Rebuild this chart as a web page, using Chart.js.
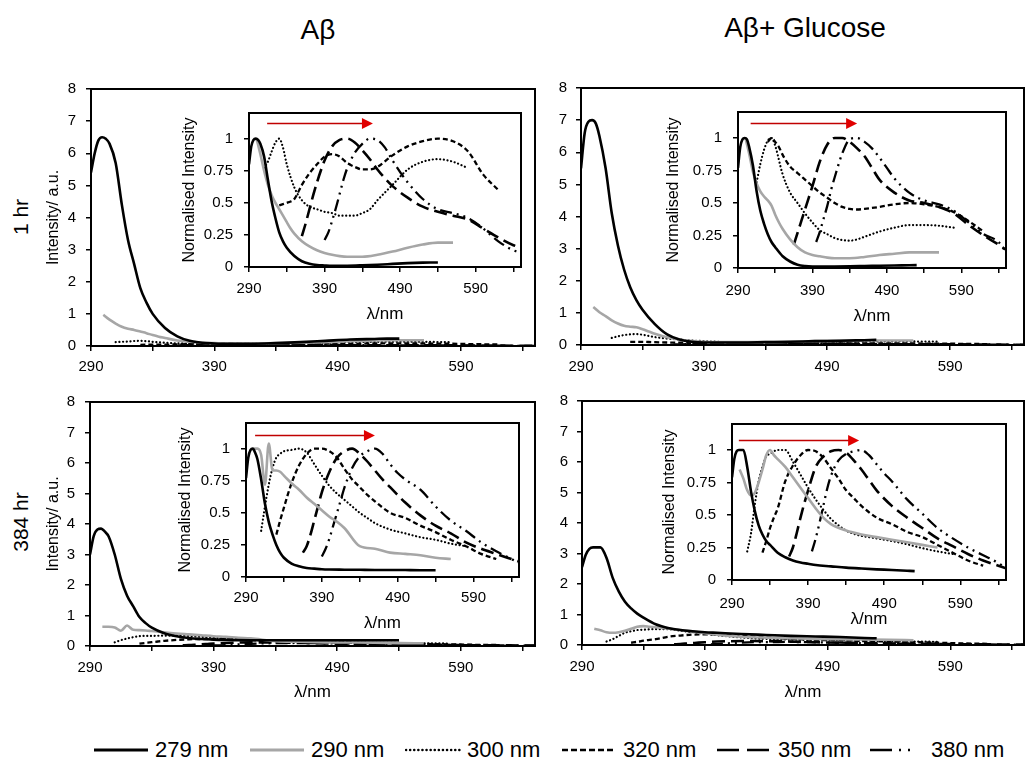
<!DOCTYPE html>
<html><head><meta charset="utf-8">
<script src="https://cdn.jsdelivr.net/npm/chart.js@4.4.1/dist/chart.umd.min.js"></script>
<style>
body{margin:0;background:#fff;width:1025px;height:762px;overflow:hidden;position:relative;font-family:"Liberation Sans",Arial,sans-serif;color:#000;}
canvas{position:absolute;}
.t{position:absolute;white-space:nowrap;line-height:1;transform:translate(-50%,-50%);}
.r{transform:translate(-50%,-50%) rotate(-90deg);}
.lg{position:absolute;top:738px;height:24px;display:flex;align-items:center;font-size:22px;white-space:nowrap;}
.lg svg{margin-right:6px;}
</style></head><body>
<div class="t" style="left:318px;top:30px;font-size:28px;">Aβ</div>
<div class="t" style="left:805px;top:28px;font-size:28px;">Aβ+ Glucose</div>
<div class="t r" style="left:20px;top:217px;font-size:21px;">1 hr</div>
<div class="t r" style="left:20px;top:522px;font-size:21px;">384 hr</div>
<div id="legend"></div>
<script>
// ---------- shared emission wavelength grids (nm) ----------
const x279 = [290,293,296,299,302,305,310,315,320,325,330,335,340,350,360,370,380,390,400,420,440,460,480,500,520,530,540];
const x290 = [300,305,310,315,320,325,330,335,340,345,350,360,370,380,390,400,410,420,440,460,480,500,520,540,560];
const x300 = [310,315,320,325,330,335,340,350,360,370,380,390,400,410,420,430,440,450,460,480,500,520,540,560,580];
const x320 = [330,335,340,345,350,360,370,380,390,400,410,420,430,440,450,460,480,500,520,540,560,580,600,620];
const x350 = [360,365,370,375,380,385,390,400,410,420,430,440,450,460,470,480,500,520,540,560,580,600,620,640,650];
const x380 = [390,395,400,405,410,415,420,430,440,450,460,470,480,490,500,520,540,560,580,600,620,640,650];

const seriesNames = ['279 nm','290 nm','300 nm','320 nm','350 nm','380 nm'];
const rowLabels = ['1 hr','384 hr'];
const colTitles = ['Aβ','Aβ+ Glucose'];
const xTickValues = [290,340,390,440,490,540,590,640];
const xTickLabels = [290,390,490,590];
const mainYTicks = [0,1,2,3,4,5,6,7,8];
const insetYTicks = [0,0.25,0.5,0.75,1];

// ---------- Aβ, 1 hr (top-left) ----------
const tlMain279 = [5.4,6.0,6.4,6.5,6.45,6.3,5.7,4.4,3.3,2.55,1.8,1.35,1.0,0.56,0.3,0.16,0.1,0.08,0.07,0.07,0.09,0.12,0.16,0.2,0.22,0.23,0.23];
const tlMain290 = [0.97,0.82,0.7,0.6,0.54,0.5,0.45,0.4,0.34,0.29,0.25,0.17,0.13,0.1,0.09,0.08,0.08,0.08,0.09,0.1,0.12,0.15,0.17,0.18,0.18];
const tlMain300 = [0.12,0.13,0.14,0.155,0.16,0.15,0.13,0.1,0.083,0.075,0.072,0.069,0.067,0.064,0.064,0.064,0.067,0.072,0.08,0.1,0.12,0.13,0.135,0.13,0.12];
const tlMain320 = [0.038,0.039,0.04,0.041,0.042,0.051,0.058,0.064,0.069,0.07,0.069,0.065,0.062,0.061,0.061,0.062,0.07,0.075,0.078,0.08,0.078,0.072,0.058,0.048];
const tlMain350 = [0.012,0.017,0.023,0.028,0.033,0.038,0.042,0.047,0.05,0.05,0.049,0.046,0.042,0.038,0.035,0.032,0.027,0.024,0.022,0.02,0.019,0.015,0.012,0.009,0.008];
const tlMain380 = [0.008,0.011,0.014,0.018,0.023,0.027,0.031,0.036,0.038,0.04,0.04,0.037,0.033,0.03,0.026,0.021,0.018,0.017,0.015,0.012,0.008,0.005,0.004];
const tlIns279 = [0.8,0.94,0.99,1.0,0.99,0.96,0.86,0.68,0.51,0.38,0.27,0.2,0.15,0.085,0.045,0.025,0.015,0.012,0.01,0.01,0.013,0.018,0.024,0.03,0.034,0.035,0.035];
const tlIns290 = [1.0,0.88,0.75,0.64,0.56,0.5,0.45,0.4,0.35,0.3,0.26,0.2,0.16,0.13,0.11,0.095,0.085,0.08,0.08,0.095,0.12,0.15,0.175,0.19,0.19];
const tlIns300 = [0.77,0.82,0.9,0.97,1.0,0.93,0.8,0.62,0.52,0.47,0.45,0.43,0.42,0.4,0.4,0.4,0.42,0.45,0.52,0.64,0.76,0.82,0.84,0.82,0.77];
const tlIns320 = [0.48,0.49,0.5,0.51,0.53,0.64,0.73,0.8,0.86,0.88,0.86,0.81,0.78,0.76,0.76,0.78,0.87,0.94,0.98,1.0,0.98,0.9,0.72,0.6];
const tlIns350 = [0.24,0.34,0.45,0.56,0.66,0.75,0.83,0.94,0.99,1.0,0.97,0.91,0.84,0.76,0.69,0.63,0.54,0.47,0.43,0.4,0.37,0.3,0.23,0.17,0.15];
const tlIns380 = [0.21,0.27,0.36,0.46,0.57,0.68,0.77,0.89,0.96,1.0,0.99,0.93,0.83,0.74,0.66,0.53,0.45,0.42,0.38,0.3,0.2,0.13,0.11];

// ---------- Aβ+ Glucose, 1 hr (top-right) ----------
const trMain279 = [5.5,6.6,6.95,7.0,6.9,6.5,5.5,4.1,3.1,2.35,1.8,1.4,1.1,0.65,0.33,0.17,0.1,0.08,0.08,0.08,0.09,0.1,0.12,0.13,0.15,0.16,null];
const trMain290 = [1.18,1.02,0.9,0.77,0.67,0.6,0.57,0.55,0.49,0.42,0.35,0.24,0.17,0.12,0.1,0.09,0.09,0.09,0.09,0.1,0.12,0.13,0.14,0.14,0.14];
const trMain300 = [null,0.22,0.27,0.31,0.33,0.34,0.32,0.245,0.2,0.17,0.14,0.12,0.1,0.088,0.078,0.073,0.071,0.075,0.082,0.095,0.105,0.112,0.112,0.11,0.105];
const trMain320 = [0.097,0.1,0.097,0.093,0.087,0.078,0.073,0.068,0.063,0.058,0.054,0.05,0.047,0.046,0.045,0.046,0.047,0.049,0.05,0.049,0.047,0.043,0.036,0.028];
const trMain350 = [null,0.009,0.014,0.018,0.023,0.027,0.032,0.041,0.048,0.05,0.05,0.049,0.046,0.043,0.039,0.034,0.029,0.026,0.025,0.024,0.021,0.017,0.013,0.009,0.007];
const trMain380 = [null,0.01,0.014,0.019,0.024,0.03,0.035,0.044,0.05,0.05,0.049,0.046,0.043,0.039,0.035,0.029,0.026,0.025,0.022,0.018,0.013,0.01,0.006];
const trIns279 = [0.77,0.93,0.99,1.0,0.99,0.93,0.79,0.59,0.44,0.34,0.26,0.2,0.16,0.09,0.05,0.025,0.015,0.012,0.012,0.012,0.013,0.015,0.017,0.019,0.021,0.022,null];
const trIns290 = [1.0,0.88,0.74,0.65,0.59,0.55,0.52,0.48,0.41,0.35,0.3,0.22,0.16,0.12,0.1,0.09,0.08,0.075,0.075,0.085,0.1,0.11,0.12,0.12,0.12];
const trIns300 = [null,0.66,0.8,0.91,0.98,1.0,0.94,0.72,0.58,0.5,0.42,0.35,0.29,0.26,0.23,0.215,0.21,0.22,0.24,0.28,0.31,0.33,0.33,0.325,0.31];
const trIns320 = [0.97,1.0,0.97,0.93,0.87,0.78,0.73,0.68,0.63,0.58,0.54,0.5,0.47,0.455,0.45,0.455,0.47,0.49,0.5,0.49,0.47,0.43,0.36,0.28];
const trIns350 = [null,0.18,0.27,0.36,0.45,0.54,0.63,0.82,0.95,1.0,1.0,0.97,0.92,0.86,0.77,0.68,0.58,0.52,0.5,0.47,0.42,0.33,0.25,0.18,0.14];
const trIns380 = [null,0.2,0.28,0.38,0.48,0.6,0.7,0.88,0.99,1.0,0.97,0.92,0.85,0.77,0.69,0.58,0.52,0.49,0.44,0.35,0.26,0.2,0.12];

// ---------- Aβ, 384 hr (bottom-left) ----------
const blMain279 = [3.0,3.6,3.82,3.85,3.75,3.6,3.0,2.2,1.65,1.3,0.95,0.75,0.6,0.42,0.32,0.26,0.23,0.21,0.2,0.19,0.19,0.19,0.19,0.19,0.19,0.19,0.19];
const blMain290 = [0.63,0.63,0.61,0.5,0.67,0.53,0.52,0.51,0.49,0.47,0.45,0.41,0.38,0.35,0.32,0.3,0.27,0.25,0.16,0.14,0.12,0.115,0.11,0.095,0.09];
const blMain300 = [0.12,0.19,0.245,0.29,0.32,0.33,0.33,0.34,0.34,0.33,0.3,0.27,0.24,0.22,0.2,0.19,0.17,0.16,0.14,0.126,0.116,0.105,0.1,0.088,0.082];
const blMain320 = [0.076,0.1,0.124,0.147,0.168,0.2,0.22,0.23,0.23,0.225,0.214,0.193,0.175,0.161,0.147,0.136,0.115,0.106,0.092,0.08,0.067,0.055,0.041,0.032];
const blMain350 = [null,0.023,0.029,0.04,0.053,0.066,0.079,0.098,0.112,0.118,0.12,0.115,0.108,0.1,0.091,0.084,0.07,0.058,0.048,0.041,0.032,0.026,0.022,0.017,0.014];
const blMain380 = [0.016,0.022,0.03,0.04,0.05,0.06,0.07,0.085,0.094,0.098,0.1,0.096,0.088,0.081,0.076,0.068,0.055,0.044,0.036,0.027,0.02,0.014,0.011];
const blIns279 = [0.77,0.93,0.99,1.0,0.97,0.92,0.76,0.57,0.43,0.33,0.25,0.19,0.15,0.105,0.083,0.07,0.065,0.06,0.058,0.057,0.056,0.055,0.055,0.054,0.053,0.053,0.053];
const blIns290 = [1.0,1.0,0.95,0.72,1.04,0.83,0.83,0.82,0.79,0.76,0.73,0.68,0.62,0.57,0.52,0.47,0.43,0.38,0.24,0.22,0.19,0.18,0.17,0.15,0.14];
const blIns300 = [0.36,0.55,0.72,0.85,0.93,0.96,0.98,0.99,1.0,0.97,0.88,0.79,0.71,0.65,0.6,0.55,0.5,0.46,0.42,0.37,0.34,0.31,0.29,0.26,0.24];
const blIns320 = [0.33,0.44,0.54,0.64,0.73,0.87,0.96,1.0,1.0,0.98,0.93,0.84,0.76,0.7,0.64,0.59,0.5,0.46,0.4,0.35,0.29,0.24,0.18,0.14];
const blIns350 = [null,0.19,0.24,0.33,0.44,0.55,0.66,0.82,0.93,0.98,1.0,0.96,0.9,0.83,0.76,0.7,0.58,0.48,0.4,0.34,0.27,0.22,0.18,0.14,0.12];
const blIns380 = [0.16,0.22,0.3,0.4,0.5,0.6,0.7,0.85,0.94,0.98,1.0,0.96,0.88,0.81,0.76,0.68,0.55,0.44,0.36,0.27,0.2,0.14,0.11];

// ---------- Aβ+ Glucose, 384 hr (bottom-right) ----------
const brMain279 = [2.55,2.95,3.15,3.2,3.2,3.2,2.85,2.2,1.75,1.42,1.2,1.03,0.9,0.68,0.56,0.49,0.45,0.42,0.4,0.36,0.33,0.3,0.28,0.26,0.23,0.22,null];
const brMain290 = [0.53,0.48,0.42,0.4,0.42,0.47,0.53,0.6,0.62,0.6,0.58,0.54,0.49,0.44,0.39,0.34,0.3,0.27,0.24,0.22,0.2,0.19,0.18,0.17,0.155];
const brMain300 = [0.114,0.19,0.3,0.4,0.45,0.49,0.5,0.52,0.52,0.47,0.42,0.37,0.32,0.28,0.245,0.22,0.2,0.185,0.177,0.166,0.156,0.143,0.127,0.114,0.104];
const brMain320 = [0.074,0.105,0.14,0.17,0.19,0.27,0.31,0.34,0.35,0.35,0.33,0.3,0.27,0.24,0.22,0.2,0.17,0.15,0.13,0.115,0.095,0.074,0.053,0.039];
const brMain350 = [null,0.023,0.033,0.047,0.062,0.077,0.09,0.113,0.124,0.129,0.13,0.127,0.12,0.11,0.1,0.09,0.074,0.062,0.052,0.042,0.034,0.026,0.02,0.014,0.012];
const brMain380 = [null,0.022,0.032,0.044,0.057,0.07,0.08,0.092,0.097,0.099,0.1,0.096,0.089,0.082,0.076,0.062,0.051,0.04,0.032,0.025,0.019,0.013,0.009];
const brIns279 = [0.79,0.93,0.99,1.0,1.0,1.0,0.87,0.68,0.53,0.42,0.35,0.3,0.27,0.21,0.175,0.15,0.135,0.125,0.115,0.105,0.095,0.088,0.082,0.077,0.071,0.068,null];
const brIns290 = [0.85,0.78,0.69,0.65,0.67,0.75,0.85,0.96,1.0,0.96,0.93,0.87,0.79,0.71,0.63,0.55,0.48,0.43,0.38,0.35,0.33,0.31,0.29,0.27,0.25];
const brIns300 = [0.22,0.36,0.58,0.76,0.87,0.95,0.97,1.0,1.0,0.91,0.81,0.71,0.62,0.54,0.47,0.42,0.38,0.355,0.34,0.32,0.3,0.275,0.245,0.22,0.2];
const brIns320 = [0.21,0.3,0.4,0.48,0.55,0.76,0.88,0.96,1.0,0.99,0.94,0.86,0.78,0.69,0.63,0.57,0.48,0.43,0.37,0.33,0.27,0.21,0.15,0.11];
const brIns350 = [null,0.18,0.25,0.36,0.48,0.59,0.69,0.87,0.95,0.99,1.0,0.98,0.92,0.85,0.77,0.69,0.57,0.48,0.4,0.32,0.26,0.2,0.15,0.11,0.09];
const brIns380 = [null,0.22,0.32,0.44,0.57,0.7,0.8,0.92,0.97,0.99,1.0,0.96,0.89,0.82,0.76,0.62,0.51,0.4,0.32,0.25,0.19,0.13,0.09];

// ---------- styling ----------
const FONT = '"Liberation Sans", Arial, sans-serif';
const GRAY = '#a6a6a6';
const xGrids = [x279,x290,x300,x320,x350,x380];
const styles = [
  {borderColor:'#000', borderWidth:2.6},
  {borderColor:GRAY, borderWidth:2.6},
  {borderColor:'#000', borderWidth:2.2, borderDash:[0.1,3.6], borderCapStyle:'round'},
  {borderColor:'#000', borderWidth:2.3, borderDash:[5,3]},
  {borderColor:'#000', borderWidth:2.6, borderDash:[13,6]},
  {borderColor:'#000', borderWidth:2.3, borderDash:[12,5,2,5,2,5]}
];

function datasets(ys) {
  return ys.map((arr, k) => Object.assign({
    label: seriesNames[k],
    data: xGrids[k].map((x, i) => ({x: x, y: arr[i]})),
    pointRadius: 0, fill: false, cubicInterpolationMode: 'monotone', spanGaps: false
  }, styles[k]));
}

const boxPlugin = {
  id: 'box',
  beforeDraw(c) {
    const a = c.chartArea, ctx = c.ctx;
    ctx.save(); ctx.fillStyle = '#fff';
    ctx.fillRect(a.left, a.top, a.right - a.left, a.bottom - a.top);
    ctx.restore();
  },
  afterDraw(c, args, o) {
    const a = c.chartArea, ctx = c.ctx;
    ctx.save();
    ctx.strokeStyle = '#000'; ctx.lineWidth = o.lw || 2;
    ctx.strokeRect(a.left, a.top, a.right - a.left, a.bottom - a.top);
    if (o.arrow) {
      const xs = c.scales.x, ys = c.scales.y;
      const x1 = xs.getPixelForValue(o.arrow[0]), x2 = xs.getPixelForValue(o.arrow[1]);
      const y = Math.round(ys.getPixelForValue(o.arrow[2])) + 0.5;
      ctx.strokeStyle = '#c00000'; ctx.lineWidth = 1.3;
      ctx.beginPath(); ctx.moveTo(x1, y); ctx.lineTo(x2 - 10, y); ctx.stroke();
      ctx.fillStyle = '#e00000';
      ctx.beginPath(); ctx.moveTo(x2 - 11, y - 5.5); ctx.lineTo(x2, y); ctx.lineTo(x2 - 11, y + 5.5); ctx.closePath(); ctx.fill();
    }
    ctx.restore();
  }
};

function mkChart(box, area, cfg) {
  const cv = document.createElement('canvas');
  cv.width = box.width; cv.height = box.height;
  cv.style.left = box.left + 'px'; cv.style.top = box.top + 'px';
  cv.style.width = box.width + 'px'; cv.style.height = box.height + 'px';
  cv.style.zIndex = cfg.inset ? 2 : 1;
  document.body.appendChild(cv);
  const yw = area.l - box.left, xh = box.top + box.height - area.b;
  const yTicks = cfg.inset ? insetYTicks : mainYTicks;
  new Chart(cv, {
    type: 'line',
    data: {datasets: datasets(cfg.ys)},
    options: {
      responsive: false, animation: false, devicePixelRatio: 1,
      layout: {padding: {top: area.t - box.top, right: box.left + box.width - area.r, left: 0, bottom: 0}},
      plugins: {legend: {display: false}, tooltip: {enabled: false}, box: {lw: 2, arrow: cfg.arrow}},
      scales: {
        x: {
          type: 'linear', min: 290, max: 650,
          afterFit: s => { s.height = xh; },
          afterBuildTicks: s => { s.ticks = xTickValues.map(v => ({value: v})); },
          ticks: {callback: v => xTickLabels.includes(v) ? String(v) : '', maxRotation: 0, minRotation: 0, autoSkip: false,
                  font: {family: FONT, size: 15}, color: '#000', padding: cfg.xpad},
          grid: {drawOnChartArea: false, drawTicks: true, tickLength: 5, color: '#000', lineWidth: 1.5},
          border: {display: false},
          title: {display: !!cfg.xTitle, text: 'λ/nm', font: {family: FONT, size: 17}, color: '#000', padding: {top: 0, bottom: 4}}
        },
        y: {
          type: 'linear', min: 0, max: cfg.inset ? 1.2 : 8,
          afterFit: s => { s.width = yw; },
          afterBuildTicks: s => { s.ticks = yTicks.map(v => ({value: v})); },
          ticks: {callback: v => String(v), font: {family: FONT, size: 15}, color: '#000', padding: cfg.ypad},
          grid: {drawOnChartArea: false, drawTicks: true, tickLength: 5, color: '#000', lineWidth: 1.5},
          border: {display: false},
          title: {display: !!cfg.yTitle, text: cfg.yTitle || '', font: {family: FONT, size: 16}, color: '#000', padding: {top: 4, bottom: 4}}
        }
      }
    },
    plugins: [boxPlugin]
  });
}

// main panels
mkChart({left:40, top:70, width:500, height:311}, {l:91, t:87, r:535, b:346},
  {ys:[tlMain279,tlMain290,tlMain300,tlMain320,tlMain350,tlMain380], yTitle:'Intensity/ a.u.', xpad:7, ypad:10});
mkChart({left:540, top:70, width:485, height:311}, {l:581, t:86, r:1024, b:345},
  {ys:[trMain279,trMain290,trMain300,trMain320,trMain350,trMain380], xpad:8, ypad:9});
mkChart({left:40, top:383, width:500, height:324}, {l:90, t:400, r:535, b:646},
  {ys:[blMain279,blMain290,blMain300,blMain320,blMain350,blMain380], yTitle:'Intensity/ a.u.', xTitle:true, xpad:8, ypad:10});
mkChart({left:540, top:383, width:485, height:324}, {l:582, t:400, r:1024, b:645},
  {ys:[brMain279,brMain290,brMain300,brMain320,brMain350,brMain380], xTitle:true, xpad:8, ypad:9});

// insets
mkChart({left:176, top:93, width:349, height:236}, {l:249, t:104, r:521, b:267},
  {inset:true, ys:[tlIns279,tlIns290,tlIns300,tlIns320,tlIns350,tlIns380], yTitle:'Normalised Intensity', xTitle:true, xpad:8, ypad:11, arrow:[314,454,1.125]});
mkChart({left:660, top:92, width:350, height:239}, {l:738, t:102, r:1006, b:268},
  {inset:true, ys:[trIns279,trIns290,trIns300,trIns320,trIns350,trIns380], yTitle:'Normalised Intensity', xTitle:true, xpad:9, ypad:11, arrow:[307,450,1.116]});
mkChart({left:172, top:403, width:352, height:235}, {l:246, t:413, r:519, b:577},
  {inset:true, ys:[blIns279,blIns290,blIns300,blIns320,blIns350,blIns380], yTitle:'Normalised Intensity', xTitle:true, xpad:7, ypad:11, arrow:[302,460,1.11]});
mkChart({left:656, top:404, width:355, height:230}, {l:732, t:414, r:1006, b:580},
  {inset:true, ys:[brIns279,brIns290,brIns300,brIns320,brIns350,brIns380], yTitle:'Normalised Intensity', xTitle:true, xpad:10, ypad:11, arrow:[299,457,1.08]});

// legend (HTML text + line samples)
const legendLeft = [93,249,405,561,716,869];
const legendDash = ['', '', '0.1 4', '6 3', '22 8', '22 7 2 7 2 30'];
const legendCap = ['butt','butt','round','butt','butt','butt'];
const lg = document.getElementById('legend');
seriesNames.forEach((name, k) => {
  const d = document.createElement('div');
  d.className = 'lg'; d.style.left = legendLeft[k] + 'px';
  const col = k === 1 ? GRAY : '#000';
  const w = k < 2 ? 3 : 2.5;
  d.innerHTML = '<svg width="56" height="10"><line x1="1" y1="5" x2="55" y2="5" stroke="' + col + '" stroke-width="' + w +
    '" stroke-dasharray="' + legendDash[k] + '" stroke-linecap="' + legendCap[k] + '"/></svg><span>' + name + '</span>';
  lg.appendChild(d);
});
</script>
</body></html>
